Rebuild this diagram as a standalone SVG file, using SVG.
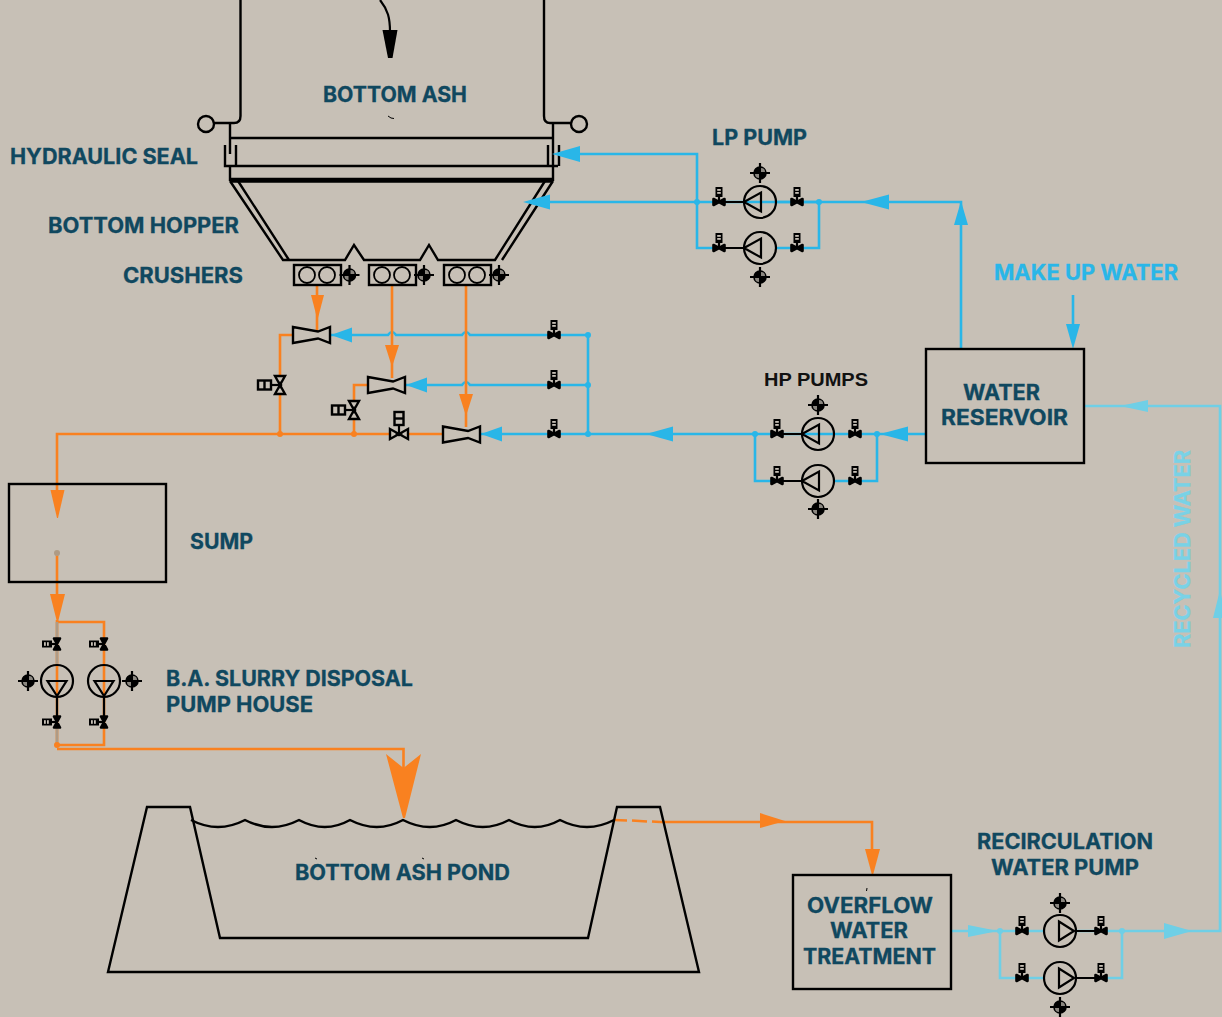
<svg xmlns="http://www.w3.org/2000/svg" width="1222" height="1017" viewBox="0 0 1222 1017">
<style>
.l{fill:none;stroke:#000;stroke-width:2.4}
.b{fill:none;stroke:#29b6e8;stroke-width:2.6}
.bf{fill:#29b6e8}
.o{fill:none;stroke:#f98120;stroke-width:2.6}
.of{fill:#f98120}
.c{fill:none;stroke:#6fcfe6;stroke-width:2.6}
.cf{fill:#6fcfe6}
.k{fill:none;stroke:#000;stroke-width:2.200}
.g{fill:none;stroke:#ae9b86;stroke-width:2.6}
text{font-family:Inter,"Liberation Sans",sans-serif;font-weight:700;font-size:21px;fill:#10485f;stroke:#10485f;stroke-width:.3}
</style>
<defs>
<g id="valve"><polygon points="-5.500,-3 5.500,3 5.500,-3 -5.500,3" fill="#000" stroke="#000" stroke-width="2.600" stroke-linejoin="round"/><line x1="0" y1="0" x2="0" y2="-7" stroke="#000" stroke-width="2.200"/><rect x="-3.500" y="-15" width="7" height="10" fill="#000"/><rect x="-1.800" y="-13" width="3.600" height="1.800" fill="#c7c0b6"/><rect x="-1.800" y="-10" width="3.600" height="1.800" fill="#c7c0b6"/></g>
<g id="valveo"><polygon points="-9,-5 9,5 9,-5 -9,5" fill="#c7c0b6" stroke="#000" stroke-width="2.400"/><polygon points="-4,0 0,-2.500 4,0 0,2.500" fill="#000"/><line x1="0" y1="0" x2="0" y2="-9" stroke="#000" stroke-width="2.200"/><rect x="-4.500" y="-22" width="9" height="13" fill="#c7c0b6" stroke="#000" stroke-width="2.400"/><line x1="-4.500" y1="-15.500" x2="4.500" y2="-15.500" stroke="#000" stroke-width="2.400"/></g>
<g id="motor"><path d="M0,-10V10M-10,0H10" stroke="#000" stroke-width="2.200"/><circle r="6" fill="#000" stroke="#000" stroke-width="1.600"/><path d="M1,-1V-5A4,4 0 0 1 5,-1ZM-1,1V5A4,4 0 0 1 -5,1Z" fill="#8b8780"/></g>
<circle id="pc" r="16" fill="none" stroke="#000" stroke-width="2.200"/>
<polygon id="tl" points="-16,0 1,-9.500 1,9.500" fill="none" stroke="#000" stroke-width="2.200"/>
<polygon id="tr" points="14,0 -1,-9.500 -1,9.500" fill="none" stroke="#000" stroke-width="2.200"/>
<polygon id="td" points="0,15 -9.500,0 9.500,0" fill="none" stroke="#000" stroke-width="2.200"/>
<g id="crusher"><rect x="0" y="0" width="47" height="20" fill="none" stroke="#000" stroke-width="2.400"/><circle cx="13" cy="10" r="8" fill="none" stroke="#000" stroke-width="1.800"/><circle cx="33" cy="10" r="8" fill="none" stroke="#000" stroke-width="1.800"/></g>
<polygon id="vent" points="0,-8 25,-3.500 37,-8 37,8 25,3.500 0,8" fill="none" stroke="#000" stroke-width="2.400"/>
</defs>
<rect width="1222" height="1017" fill="#c7c0b6"/>

<g id="furnace">
<path class="l" d="M240.500,0V116Q240.500,123 234,123H214M544,0V116Q544,123 550,123H571M230,123V154M553,123V181M230,138H553M225,145V166H558M236,145V166M548,145V166M559,145V166M230,166V181"/>
<path class="l" d="M230,179H553M230,181.500H553"/>
<circle class="l" cx="206" cy="124" r="8"/><circle class="l" cx="579" cy="124" r="8"/>
<path d="M388,116l3,2l3,0.500" stroke="#000" fill="none" stroke-width="1"/>
<text x="323" y="102" textLength="144" lengthAdjust="spacingAndGlyphs">BOTTOM ASH</text>
</g>
<g id="hopper">
<path class="l" d="M230,181L283,260H345L354,245L364,260H420L429,245L438,260H495L545,181M238,181L289,260M502,260L553,181"/>
</g>

<g id="connectors">
<path class="k" d="M380,0C388,10 390,18 390,32"/>
<polygon points="382.500,30 397.500,30 392.500,58 388,58" fill="#000"/>
<path class="b" d="M961,349V202H530M697,202V154H570"/>
<path class="b" d="M697,202V248H719M776,202H819V248H797M776,248H797"/>
<polygon class="bf" points="552,154 580,146 580,162"/>
<polygon class="bf" points="523,202 550,194.500 550,209.500"/>
<polygon class="bf" points="861,202 889,194.500 889,209.500"/>
<polygon class="bf" points="961,201 968,225 954,225"/>
<circle class="bf" cx="697" cy="202" r="3"/><circle class="bf" cx="819" cy="202" r="3"/>
<path class="k" d="M725,202H744M725,248H744"/>
<path class="b" d="M1073,295V330"/>
<polygon class="bf" points="1073,349 1066,324 1080,324"/>
<path class="b" d="M926,434H480M755,434V481H777M834,434H855M834,481H877V434"/>
<path class="b" d="M588,335V434M588,335H470Q466,329 462,335H396Q392,329 388,335H330M588,385H470Q466,379 462,385H405"/>
<polygon class="bf" points="880,434 908,426.500 908,441.500"/>
<polygon class="bf" points="646,434 673,426.500 673,441.500"/>
<polygon class="bf" points="481,434 502,426.500 502,441.500"/>
<polygon class="bf" points="406,385 427,377.500 427,392.500"/>
<polygon class="bf" points="331,335 352,327.500 352,342.500"/>
<circle class="bf" cx="588" cy="335" r="3"/><circle class="bf" cx="588" cy="385" r="3"/><circle class="bf" cx="588" cy="434" r="3"/><circle class="bf" cx="755" cy="434" r="3"/><circle class="bf" cx="877" cy="434" r="3"/>
<path class="k" d="M783,434H802M783,481H802"/>
<path class="o" d="M317,285V331M392,285V378M466,285V427M293,335H280V434M367,385H354V434M442,434H57V490"/>
<polygon class="of" points="311,295 324,295 318,318 317,318"/>
<polygon class="of" points="385,345 399,345 392,367"/>
<polygon class="of" points="459,394 473,394 466,416"/>
<circle class="of" cx="280" cy="434" r="3"/><circle class="of" cx="354" cy="434" r="3"/>
<polygon class="of" points="50.500,490 64.500,490 58,518 57,518"/>
<path class="o" d="M57,553V600M57,622H104V745H57M57,749H403.500V770"/>
<polygon class="of" points="50,594 65,594 58,622 57,622"/>
<circle cx="57" cy="553" r="3" fill="#ae9b86"/>
<path class="o" d="M57,620V745"/>
<path class="g" d="M57,622V665M57,727V745"/>
<path class="k" d="M57,696V716M104,696V716"/>
<circle class="of" cx="57" cy="745" r="3"/>
<polygon class="of" points="386,754 403.500,768 421,754 405,818 403,818"/>
<path class="o" d="M614,820L627,820.500M632,820.500L647,821.500M652,821.500L660,822M660,822H872V852"/>
<polygon class="of" points="760,813 785,821 760,828"/>
<polygon class="of" points="865,849 880,849 873,875 872,875"/>
<path class="c" d="M951,931H1043M1000,931V978H1043M1076,931H1220V406H1084M1095,978H1122V931"/>
<polygon class="cf" points="968,925 998,931 968,937"/>
<polygon class="cf" points="1164,923 1192,931 1164,939"/>
<polygon class="cf" points="1120,406 1148,400 1148,412"/>
<polygon class="cf" points="1220,590 1226,618 1213,618"/>
<circle class="cf" cx="1000" cy="931" r="3"/><circle class="cf" cx="1122" cy="931" r="3"/>
<path class="k" d="M1076,931H1095M1076,978H1095"/>
</g>

<g id="crushers">
<use href="#crusher" x="294" y="265"/><use href="#crusher" x="369" y="265"/><use href="#crusher" x="444" y="265"/>
<use href="#motor" x="349.500" y="275"/><use href="#motor" x="424" y="275"/><use href="#motor" x="499" y="275"/>
</g>
<g id="venturis"><use href="#vent" x="293" y="335"/><use href="#vent" x="368" y="385"/><use href="#vent" x="443" y="434.500"/></g>
<g id="water-valves">
<use href="#valve" x="554" y="335"/><use href="#valve" x="554" y="385"/><use href="#valve" x="554" y="434"/>
<use href="#valveo" transform="translate(280,385) rotate(-90)"/>
<use href="#valveo" transform="translate(354,410) rotate(-90)"/>
<use href="#valveo" x="399" y="434"/>
</g>
<g id="lp-pumps">
<use href="#valve" x="719" y="202"/><use href="#valve" x="797" y="202"/><use href="#valve" x="719" y="248"/><use href="#valve" x="797" y="248"/>
<use href="#pc" x="760" y="202"/><use href="#tl" x="760" y="202"/><use href="#pc" x="760" y="248"/><use href="#tl" x="760" y="248"/>
<use href="#motor" x="760" y="173"/><use href="#motor" x="760" y="277"/>
</g>
<g id="hp-pumps">
<use href="#valve" x="777" y="434"/><use href="#valve" x="855" y="434"/><use href="#valve" x="777" y="481"/><use href="#valve" x="855" y="481"/>
<use href="#pc" x="818" y="434"/><use href="#tl" x="818" y="434"/><use href="#pc" x="818" y="481"/><use href="#tl" x="818" y="481"/>
<use href="#motor" x="818" y="405"/><use href="#motor" x="818" y="509"/>
</g>
<g id="reservoir">
<rect class="l" x="926" y="349" width="158" height="114"/>
<text x="963" y="400" textLength="77" lengthAdjust="spacingAndGlyphs">WATER</text>
<text x="941" y="425" textLength="127" lengthAdjust="spacingAndGlyphs">RESERVOIR</text>
</g>
<g id="sump"><rect class="l" x="9" y="484" width="157" height="98"/></g>
<g id="slurry-pumps">
<use href="#valve" transform="translate(57,644) rotate(-90)"/><use href="#valve" transform="translate(104,644) rotate(-90)"/><use href="#valve" transform="translate(57,722) rotate(-90)"/><use href="#valve" transform="translate(104,722) rotate(-90)"/>
<use href="#pc" x="57" y="681"/><use href="#td" x="57" y="681"/><use href="#pc" x="104" y="681"/><use href="#td" x="104" y="681"/>
<use href="#motor" x="28" y="681"/><use href="#motor" x="132" y="681"/>
</g>
<g id="pond">
<path class="l" d="M108,972L147,807H190L220,938H588L617,807H660L699,972Z"/>
<path class="l" d="M191,820Q218,834 245,820Q272,834 299,820Q325,834 350,820Q377,834 403,820Q430,834 456,820Q483,834 509,820Q535,834 560,820Q587,834 614,820"/>
<path d="M315,858l2,1M422,858l2,1" stroke="#000" stroke-width="1"/>
<text x="295" y="880" textLength="215" lengthAdjust="spacingAndGlyphs">BOTTOM ASH POND</text>
</g>
<g id="overflow">
<rect class="l" x="793" y="875" width="158" height="114"/>
<path d="M867,888l-0.500,3" stroke="#000" stroke-width="1"/>
<text x="807" y="913" textLength="126" lengthAdjust="spacingAndGlyphs">OVERFLOW</text>
<text x="830" y="938" textLength="78" lengthAdjust="spacingAndGlyphs">WATER</text>
<text x="803" y="964" textLength="133" lengthAdjust="spacingAndGlyphs">TREATMENT</text>
</g>
<g id="recirc-pumps">
<use href="#valve" x="1022" y="931"/><use href="#valve" x="1101" y="931"/><use href="#valve" x="1022" y="978"/><use href="#valve" x="1101" y="978"/>
<use href="#pc" x="1060" y="931"/><use href="#tr" x="1060" y="931"/><use href="#pc" x="1060" y="978"/><use href="#tr" x="1060" y="978"/>
<use href="#motor" x="1060" y="903"/><use href="#motor" x="1060" y="1007"/>
</g>
<g id="labels">
<text x="10" y="164" textLength="188" lengthAdjust="spacingAndGlyphs">HYDRAULIC SEAL</text>
<text x="48" y="233" textLength="191" lengthAdjust="spacingAndGlyphs">BOTTOM HOPPER</text>
<text x="123" y="283" textLength="120" lengthAdjust="spacingAndGlyphs">CRUSHERS</text>
<text x="712" y="145" textLength="95" lengthAdjust="spacingAndGlyphs">LP PUMP</text>
<text x="994" y="280" textLength="184" lengthAdjust="spacingAndGlyphs" style="fill:#29b6e8;stroke:#29b6e8">MAKE UP WATER</text>
<text x="764" y="386" textLength="104" lengthAdjust="spacingAndGlyphs" style="fill:#111;stroke:none;font-family:'Liberation Sans',sans-serif;font-size:19px">HP PUMPS</text>
<text x="190" y="549" textLength="63" lengthAdjust="spacingAndGlyphs">SUMP</text>
<text x="166" y="686" textLength="247" lengthAdjust="spacingAndGlyphs">B.A. SLURRY DISPOSAL</text>
<text x="166" y="712" textLength="147" lengthAdjust="spacingAndGlyphs">PUMP HOUSE</text>
<text x="977" y="849" textLength="176" lengthAdjust="spacingAndGlyphs">RECIRCULATION</text>
<text x="991" y="875" textLength="148" lengthAdjust="spacingAndGlyphs">WATER PUMP</text>
<text transform="translate(1190,648) rotate(-90)" textLength="198" lengthAdjust="spacingAndGlyphs" style="fill:#79d2e6;stroke:#79d2e6">RECYCLED WATER</text>
</g>
</svg>
